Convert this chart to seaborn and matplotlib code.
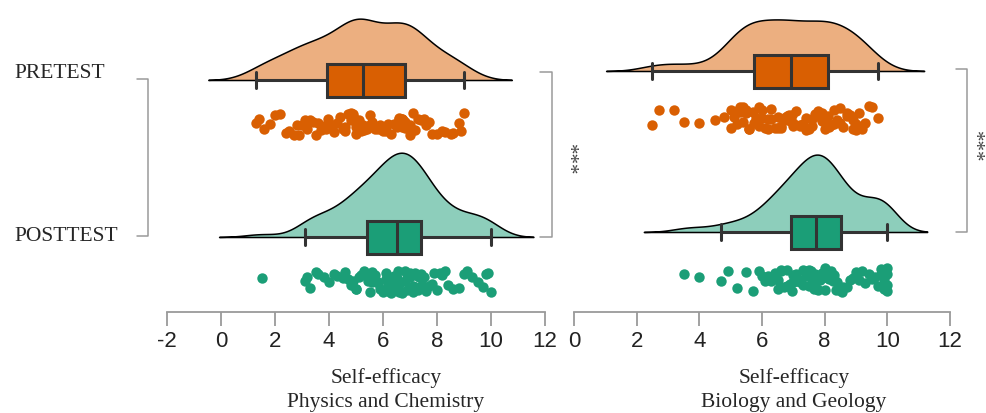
import numpy as np
import matplotlib
matplotlib.use("Agg")
import matplotlib.pyplot as plt
from matplotlib.lines import Line2D
import seaborn as sns

# --- Data ---
GROUPS = ['PRETEST', 'POSTTEST']
PANEL_TITLES = ['Self-efficacy\nPhysics and Chemistry', 'Self-efficacy\nBiology and Geology']
LEFT_TICKS = [-2, 0, 2, 4, 6, 8, 10, 12]
RIGHT_TICKS = [0, 2, 4, 6, 8, 10, 12]
SIG_LABEL = '***'

phys_pre = [1.3, 1.4, 1.6, 1.8, 2.0, 2.2, 2.4, 2.5, 2.7, 2.8, 2.9, 3.0, 3.1, 3.2, 3.3, 3.4, 3.5, 3.6, 3.7, 3.8, 3.9,
            3.95, 4.1, 4.2, 4.3, 4.4, 4.5, 4.6, 4.6, 4.7, 4.8, 4.8, 4.9, 4.9, 5.0, 5.0, 5.1, 5.1, 5.2, 5.2, 5.2, 5.25,
            5.3, 5.4, 5.5, 5.5, 5.6, 5.7, 5.8, 5.9, 6.0, 6.1, 6.2, 6.3, 6.4, 6.5, 6.6, 6.6, 6.7, 6.7, 6.7, 6.75, 6.8,
            6.8, 6.9, 7.0, 7.0, 7.1, 7.1, 7.2, 7.3, 7.4, 7.5, 7.6, 7.7, 7.8, 8.0, 8.2, 8.3, 8.5, 8.6, 8.8, 8.9, 9.0]
phys_post = [1.5, 3.1, 3.2, 3.3, 3.5, 3.6, 3.8, 4.0, 4.2, 4.3, 4.5, 4.6, 4.7, 4.8, 4.9, 5.0, 5.0, 5.1, 5.2, 5.3, 5.35,
             5.45, 5.5, 5.6, 5.6, 5.7, 5.8, 5.8, 5.9, 6.0, 6.0, 6.1, 6.1, 6.2, 6.2, 6.3, 6.3, 6.4, 6.4, 6.45, 6.5, 6.5,
             6.55, 6.6, 6.6, 6.7, 6.7, 6.8, 6.8, 6.9, 6.9, 7.0, 7.0, 7.0, 7.1, 7.1, 7.2, 7.2, 7.3, 7.3, 7.35, 7.4, 7.4,
             7.45, 7.5, 7.6, 7.7, 7.8, 7.9, 8.0, 8.1, 8.2, 8.3, 8.4, 8.6, 8.8, 9.0, 9.1, 9.3, 9.5, 9.7, 9.8, 9.9, 10.0]
bio_pre = [2.5, 2.7, 3.2, 3.5, 4.0, 4.5, 4.8, 5.0, 5.0, 5.1, 5.2, 5.2, 5.3, 5.3, 5.4, 5.4, 5.5, 5.5, 5.6, 5.6, 5.7,
           5.75, 5.8, 5.9, 5.9, 6.0, 6.0, 6.1, 6.2, 6.2, 6.3, 6.3, 6.4, 6.5, 6.5, 6.6, 6.6, 6.7, 6.7, 6.8, 6.85, 6.9,
           6.95, 7.0, 7.0, 7.1, 7.2, 7.2, 7.3, 7.4, 7.4, 7.5, 7.6, 7.6, 7.7, 7.8, 7.8, 7.9, 7.9, 8.0, 8.0, 8.05, 8.1,
           8.15, 8.2, 8.3, 8.3, 8.4, 8.5, 8.5, 8.6, 8.7, 8.7, 8.8, 8.9, 8.9, 9.0, 9.0, 9.1, 9.2, 9.3, 9.4, 9.5, 9.7]
bio_post = [3.5, 4.0, 4.7, 4.9, 5.2, 5.5, 5.7, 5.9, 6.0, 6.1, 6.2, 6.3, 6.4, 6.5, 6.5, 6.6, 6.6, 6.7, 6.8, 6.8, 6.9,
            6.95, 7.0, 7.0, 7.1, 7.1, 7.2, 7.2, 7.3, 7.3, 7.4, 7.4, 7.45, 7.5, 7.5, 7.55, 7.6, 7.6, 7.65, 7.7, 7.7, 7.7,
            7.75, 7.8, 7.8, 7.85, 7.9, 7.9, 8.0, 8.0, 8.0, 8.1, 8.1, 8.15, 8.2, 8.2, 8.25, 8.3, 8.3, 8.35, 8.4, 8.45, 8.5,
            8.55, 8.6, 8.7, 8.8, 8.9, 9.0, 9.1, 9.2, 9.3, 9.4, 9.5, 9.6, 9.7, 9.8, 9.8, 9.9, 9.9, 10.0, 10.0, 10.0, 10.0]

# --- Style ---
W, H = 986, 414
PRE_DARK, PRE_LIGHT = '#D95F02', '#ECAF80'
POST_DARK, POST_LIGHT = '#1B9E77', '#8DCEBB'
EDGE = '#333333'
AXIS_GREY = '#9a9a9a'
SERIF = ['Liberation Serif', 'DejaVu Serif']
SERIF_SIZE = 15.5

sns.set_theme(style='white')
plt.rcParams['font.family'] = ['Liberation Sans Narrow', 'Liberation Sans', 'DejaVu Sans']


def fx(x):
    return x / W


def fy(y):
    return 1 - y / H


def draw_group(ax, values, base, pts, dark, light, dmax):
    n = len(values)
    # half-violin density sitting on the baseline
    ins = ax.inset_axes([0, base, 1, 92], transform=ax.get_yaxis_transform(), sharex=ax)
    sns.kdeplot(x=values, ax=ins, fill=True, color=light, alpha=1, edgecolor='black',
                linewidth=1.1, bw_adjust=0.85, cut=2.6)
    ins.set_ylim(0, dmax)
    ins.set_xlabel('')
    ins.set_ylabel('')
    ins.axis('off')
    ins.set_zorder(1.5)
    for c in ins.collections:
        c.set_clip_on(False)

    sns.boxplot(x=values, y=np.full(n, base), orient='y', native_scale=True, ax=ax,
                color=dark, saturation=1, linecolor=EDGE, linewidth=2.2, width=33,
                showfliers=False, legend=False)
    # jitter is seaborn's own vertical scatter (seeded so the file is reproducible)
    sns.stripplot(x=values, y=np.full(n, pts), orient='y', native_scale=True, ax=ax,
                  color=dark, size=7.5, jitter=12, linewidth=0, legend=False)


def draw_panel(rect, pre, post, rows, dmax, xlim, ticks):
    ax = fig.add_axes(rect)
    draw_group(ax, pre, rows[0], rows[1], PRE_DARK, PRE_LIGHT, dmax)
    draw_group(ax, post, rows[2], rows[3], POST_DARK, POST_LIGHT, dmax)
    ax.set_xlim(*xlim)
    ax.set_ylim(0, 313)
    ax.set_xticks(ticks)
    ax.set_xticklabels([str(t) for t in ticks])
    ax.set_yticks([])
    ax.set_xlabel('')
    ax.set_ylabel('')
    ax.patch.set_alpha(0)
    for s in ['top', 'left', 'right']:
        ax.spines[s].set_visible(False)
    ax.spines['bottom'].set_color(AXIS_GREY)
    ax.spines['bottom'].set_linewidth(1.3)
    ax.tick_params(axis='x', direction='out', length=10, width=1.3, color=AXIS_GREY,
                   labelsize=16, labelcolor='#222222', pad=3, bottom=True)
    return ax


def bracket(x_vert, x_end, y_top, y_bot):
    xs = [fx(x_end), fx(x_vert), fx(x_vert), fx(x_end)]
    ys = [fy(y_top), fy(y_top), fy(y_bot), fy(y_bot)]
    fig.add_artist(Line2D(xs, ys, color=AXIS_GREY, lw=1.1, transform=fig.transFigure))


np.random.seed(3)
fig = plt.figure(figsize=(W / 100, H / 100), dpi=100)

ax_l = draw_panel([fx(167), fy(313), 378 / W, 313 / H], phys_pre, phys_post,
                  (232, 188, 75, 30), 0.27, (-2, 12), LEFT_TICKS)
ax_r = draw_panel([fx(574), fy(313), 376 / W, 313 / H], bio_pre, bio_post,
                  (241, 194, 80, 32), 0.37, (0, 12), RIGHT_TICKS)

# group labels
fig.text(fx(14), fy(73), GROUPS[0], family=SERIF, fontsize=SERIF_SIZE, va='center', ha='left')
fig.text(fx(14), fy(237), GROUPS[1], family=SERIF, fontsize=SERIF_SIZE, va='center', ha='left')

# axis titles
fig.text(fx(386), fy(390), PANEL_TITLES[0], family=SERIF, fontsize=SERIF_SIZE, ha='center',
         va='center', linespacing=1.3)
fig.text(fx(794), fy(390), PANEL_TITLES[1], family=SERIF, fontsize=SERIF_SIZE, ha='center',
         va='center', linespacing=1.3)

# brackets and significance stars
bracket(148, 137, 80, 237)
bracket(552, 540, 73, 238)
bracket(967, 956, 70, 233)
fig.text(fx(567), fy(160), SIG_LABEL, family=SERIF, fontsize=15, rotation=270,
         ha='center', va='center', color='#444444')
fig.text(fx(973), fy(147), SIG_LABEL, family=SERIF, fontsize=15, rotation=270,
         ha='center', va='center', color='#444444')

fig.savefig('out.png', dpi=100)
